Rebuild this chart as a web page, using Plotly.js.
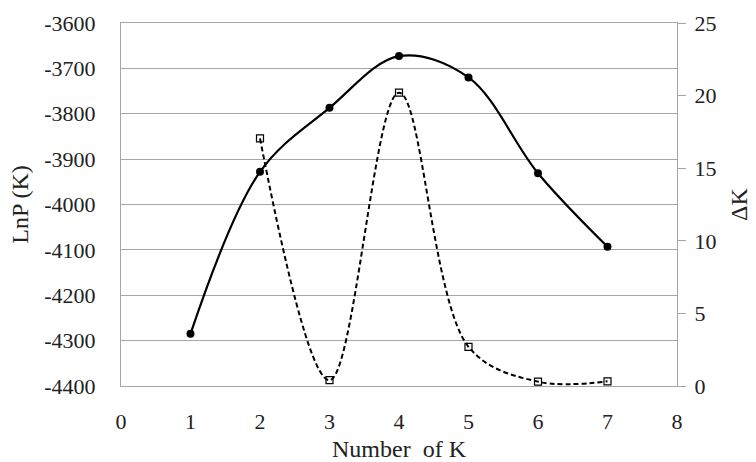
<!DOCTYPE html>
<html>
<head>
<meta charset="utf-8">
<script src="https://cdn.plot.ly/plotly-3.0.1.min.js"></script>
<style>html,body{margin:0;padding:0;background:#fff;}#chart{width:756px;height:462px;}</style>
</head>
<body>
<div id="chart"></div>
<script>
const kLnP = [1, 2, 3, 4, 5, 6, 7];
const lnP = [-4285, -3928, -3787, -3673, -3720, -3931, -4093];
const kDelta = [2, 3, 4, 5, 6, 7];
const deltaK = [17.05, 0.4, 20.2, 2.7, 0.3, 0.32];
const xTicks = [0, 1, 2, 3, 4, 5, 6, 7, 8];
const leftTicks = [-4400, -4300, -4200, -4100, -4000, -3900, -3800, -3700, -3600];
const rightTicks = [0, 5, 10, 15, 20, 25];

const FAM = 'Liberation Serif, Times New Roman, serif';
const font = {family: FAM, size: 24, color: '#222'};
const tfont = {family: FAM, size: 22, color: '#222'};

const traces = [
  {
    x: kLnP, y: lnP, type: 'scatter', mode: 'lines+markers',
    line: {color: '#000', width: 2.2, shape: 'spline', smoothing: 1},
    marker: {symbol: 'circle', size: 8, color: '#000'},
    yaxis: 'y', name: 'LnP(K)'
  },
  {
    x: kDelta, y: deltaK, type: 'scatter', mode: 'lines+markers',
    line: {color: '#000', width: 2, dash: '5px,3px', shape: 'spline', smoothing: 1},
    marker: {symbol: 'square-open', size: 7, color: '#000', line: {width: 1.2}},
    yaxis: 'y2', name: 'ΔK'
  }
];

const layout = {
  width: 756, height: 462,
  margin: {l: 121, r: 79, t: 23, b: 76},
  paper_bgcolor: '#fff', plot_bgcolor: '#fff',
  showlegend: false,
  font: font,
  xaxis: {
    range: [0, 8], tickvals: xTicks, ticktext: xTicks.map(String),
    showgrid: false, zeroline: false,
    showline: true, linecolor: '#a6a6a6', linewidth: 1, mirror: true,
    ticks: '', ticklabelstandoff: 16,
    tickfont: tfont,
    title: {text: 'Number  of K', font: font, standoff: 7}
  },
  yaxis: {
    range: [-4400, -3600], tickvals: leftTicks, ticktext: leftTicks.map(String),
    showgrid: true, gridcolor: '#a6a6a6', gridwidth: 1, zeroline: false,
    showline: true, linecolor: '#a6a6a6', linewidth: 1,
    ticks: '', ticklabelstandoff: 20,
    tickfont: tfont,
    title: {text: 'LnP (K)', font: font, standoff: 8}
  },
  yaxis2: {
    range: [0, 25], tickvals: rightTicks, ticktext: rightTicks.map(String),
    overlaying: 'y', side: 'right',
    showgrid: false, zeroline: false,
    showline: true, linecolor: '#a6a6a6', linewidth: 1,
    ticks: 'outside', ticklen: 8, tickcolor: '#a6a6a6', ticklabelstandoff: 4,
    tickfont: tfont,
    title: {text: 'ΔK', font: font, standoff: 14}
  }
};

Plotly.newPlot('chart', traces, layout, {displayModeBar: false, staticPlot: true});
</script>
</body>
</html>
